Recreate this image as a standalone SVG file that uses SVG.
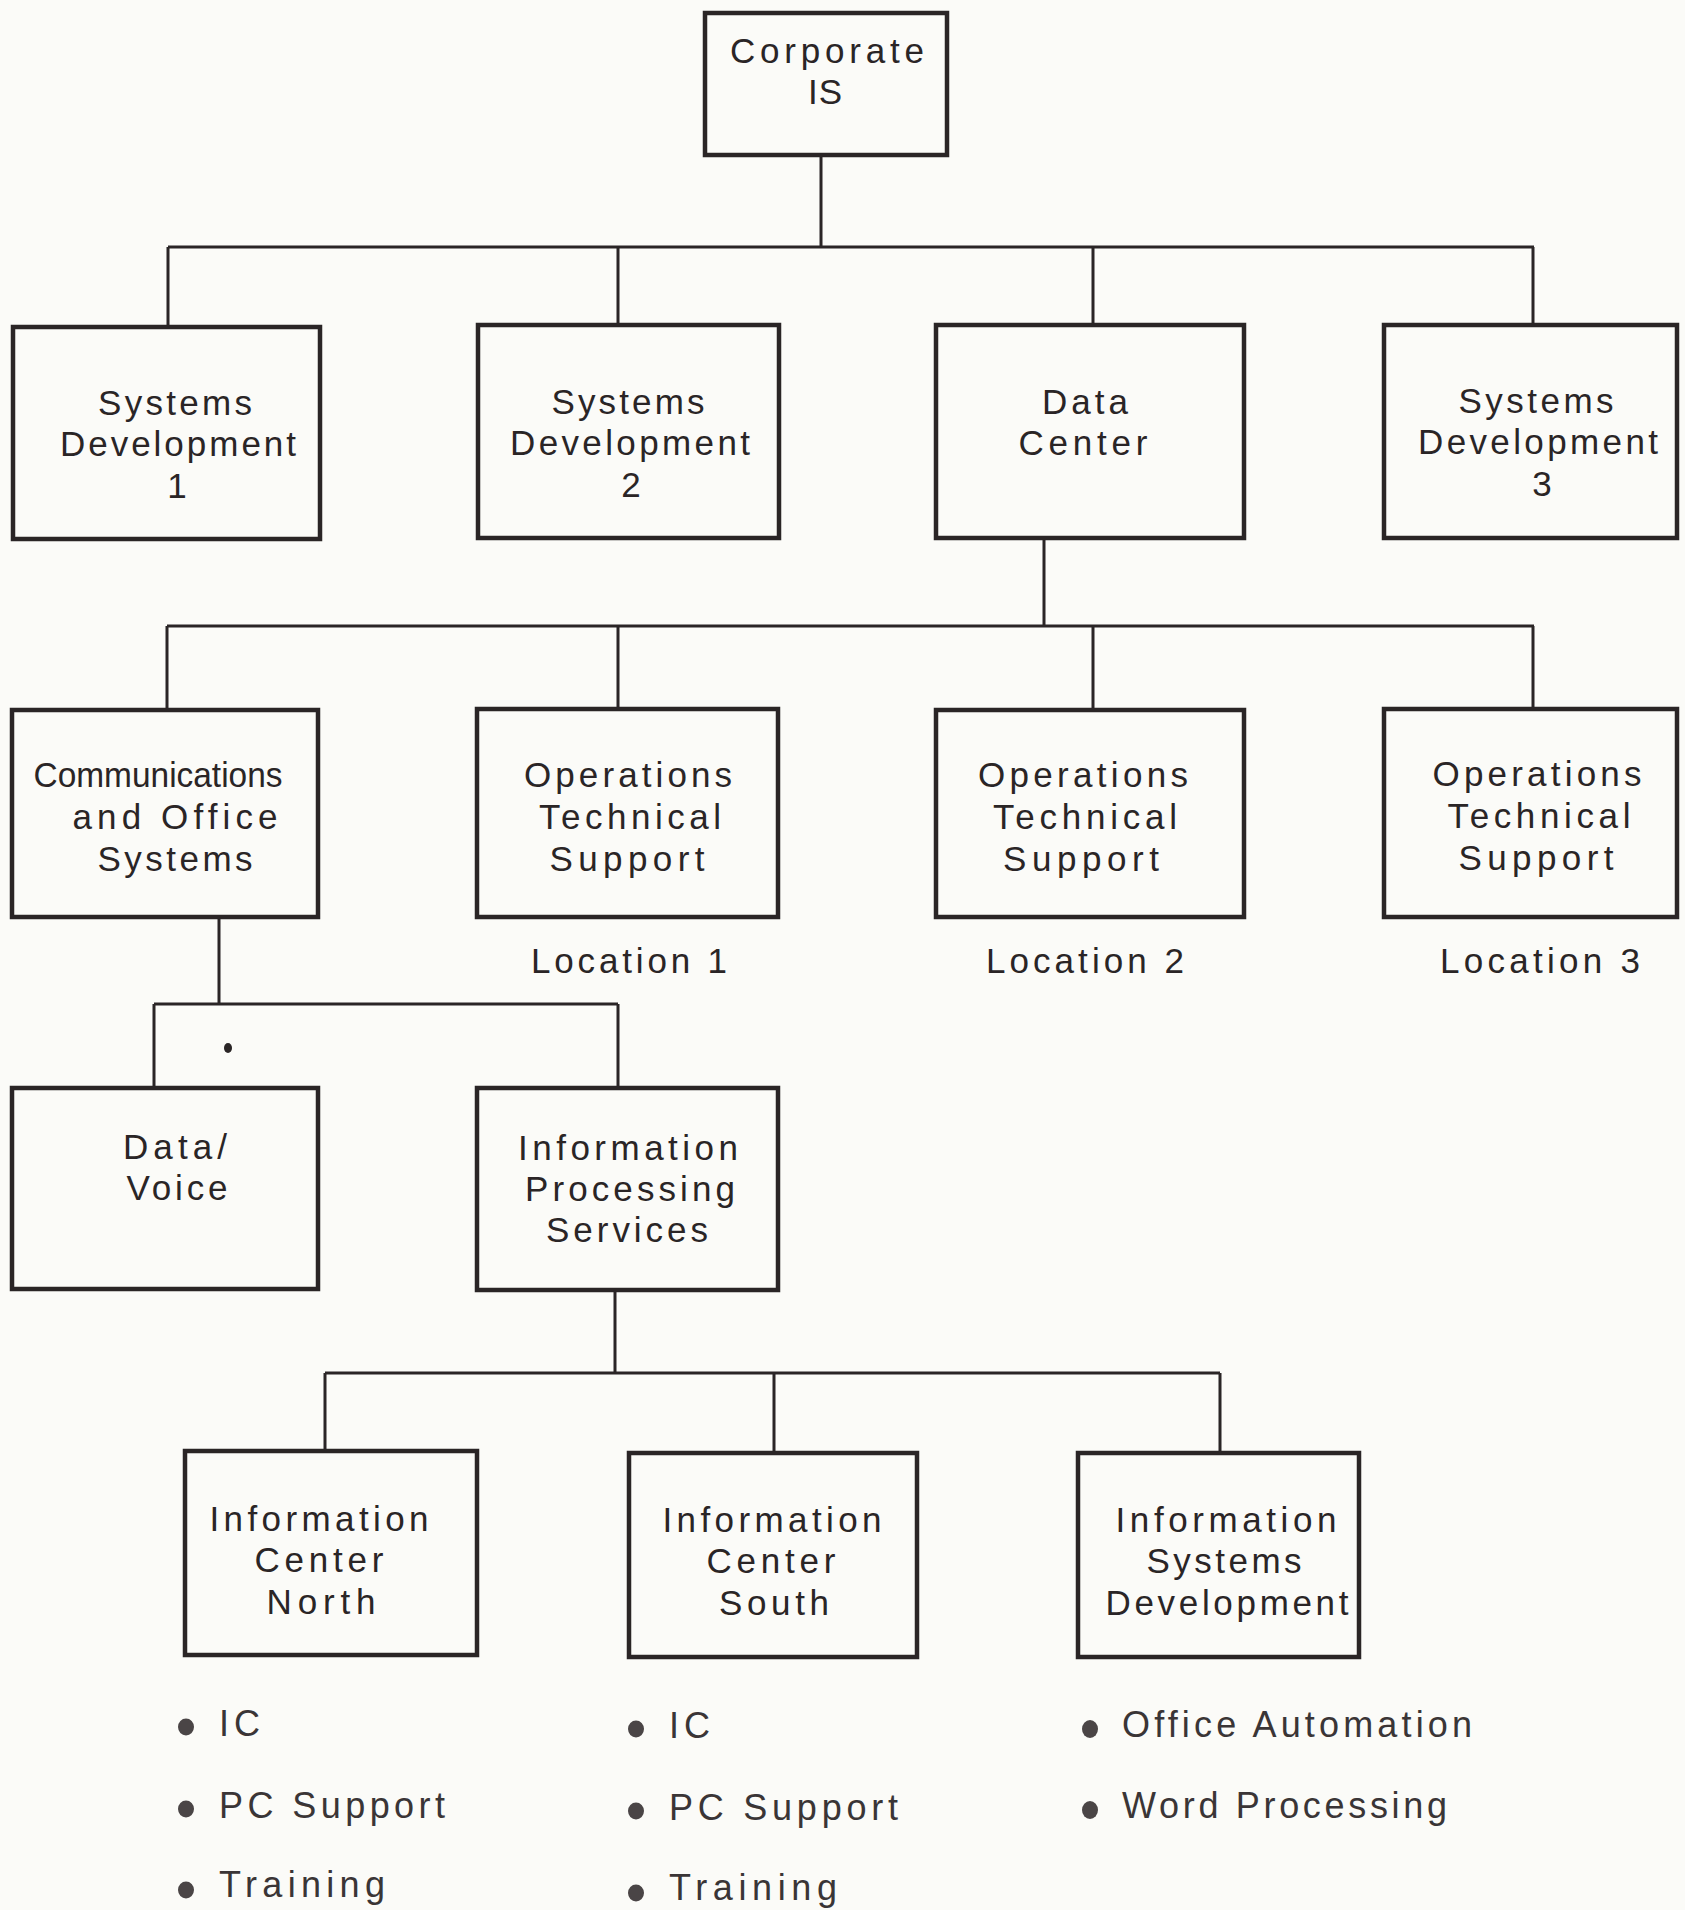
<svg xmlns="http://www.w3.org/2000/svg" width="1685" height="1910" viewBox="0 0 1685 1910">
  <style>
    .box { fill: none; stroke: #2a2526; stroke-width: 4.5; }
    .wire { fill: none; stroke: #2a2526; stroke-width: 3; }
    .t { font-family: "Liberation Sans", Arial, sans-serif; font-size: 35px; fill: #2a2526; text-anchor: middle; }
    .b { font-family: "Liberation Sans", Arial, sans-serif; font-size: 36px; fill: #3a3536; }
    .dot { fill: #4a4546; }
  </style>
  <rect x="0" y="0" width="1685" height="1910" fill="#fbfbf8"/>

  <!-- connectors -->
  <g id="connectors">
    <path class="wire" d="M821 157 V247 M168 247 H1534 M168 247 V325 M618 247 V323 M1093 247 V323 M1533 247 V323"/>
    <path class="wire" d="M1044 540 V626 M167 626 H1534 M167 626 V708 M618 626 V707 M1093 626 V708 M1533 626 V707"/>
    <path class="wire" d="M219 919 V1004 M154 1004 H618 M154 1004 V1086 M618 1004 V1086"/>
    <path class="wire" d="M615 1292 V1373 M325 1373 H1220 M325 1373 V1449 M774 1373 V1451 M1220 1373 V1451"/>
    <ellipse cx="228" cy="1048" rx="4" ry="5" fill="#2a2526"/>
  </g>

  <g id="corporate-is">
    <rect class="box" x="705" y="13" width="242" height="142"/>
    <text class="t" font-size="37" x="827" y="63" textLength="194" lengthAdjust="spacing">Corporate</text>
    <text class="t" font-size="37" x="825" y="104" textLength="34" lengthAdjust="spacing">IS</text>
  </g>

  <g id="systems-development-1">
    <rect class="box" x="13" y="327" width="307" height="212"/>
    <text class="t" x="175" y="415" textLength="154" lengthAdjust="spacing">Systems</text>
    <text class="t" x="178" y="456" textLength="236" lengthAdjust="spacing">Development</text>
    <text class="t" x="177" y="498">1</text>
  </g>

  <g id="systems-development-2">
    <rect class="box" x="478" y="325" width="301" height="213"/>
    <text class="t" x="628" y="414" textLength="153" lengthAdjust="spacing">Systems</text>
    <text class="t" x="630" y="455" textLength="240" lengthAdjust="spacing">Development</text>
    <text class="t" x="631" y="497">2</text>
  </g>

  <g id="data-center">
    <rect class="box" x="936" y="325" width="308" height="213"/>
    <text class="t" x="1085" y="414" textLength="86" lengthAdjust="spacing">Data</text>
    <text class="t" x="1083" y="455" textLength="129" lengthAdjust="spacing">Center</text>
  </g>

  <g id="systems-development-3">
    <rect class="box" x="1384" y="325" width="293" height="213"/>
    <text class="t" x="1536" y="413" textLength="155" lengthAdjust="spacing">Systems</text>
    <text class="t" x="1538" y="454" textLength="240" lengthAdjust="spacing">Development</text>
    <text class="t" x="1542" y="496">3</text>
  </g>

  <g id="communications-office-systems">
    <rect class="box" x="12" y="710" width="306" height="207"/>
    <text class="t" x="158" y="787" textLength="249" lengthAdjust="spacingAndGlyphs">Communications</text>
    <text class="t" x="175" y="829" textLength="205" lengthAdjust="spacing">and Office</text>
    <text class="t" x="175" y="871" textLength="155" lengthAdjust="spacing">Systems</text>
  </g>

  <g id="ops-tech-support-1">
    <rect class="box" x="477" y="709" width="301" height="208"/>
    <text class="t" x="628" y="787" textLength="208" lengthAdjust="spacing">Operations</text>
    <text class="t" x="630" y="829" textLength="182" lengthAdjust="spacing">Technical</text>
    <text class="t" x="627" y="871" textLength="155" lengthAdjust="spacing">Support</text>
    <text class="t" x="629" y="973" textLength="196" lengthAdjust="spacing">Location 1</text>
  </g>

  <g id="ops-tech-support-2">
    <rect class="box" x="936" y="710" width="308" height="207"/>
    <text class="t" x="1083" y="787" textLength="210" lengthAdjust="spacing">Operations</text>
    <text class="t" x="1085" y="829" textLength="184" lengthAdjust="spacing">Technical</text>
    <text class="t" x="1081" y="871" textLength="156" lengthAdjust="spacing">Support</text>
    <text class="t" x="1085" y="973" textLength="198" lengthAdjust="spacing">Location 2</text>
  </g>

  <g id="ops-tech-support-3">
    <rect class="box" x="1384" y="709" width="293" height="208"/>
    <text class="t" x="1537" y="786" textLength="209" lengthAdjust="spacing">Operations</text>
    <text class="t" x="1539" y="828" textLength="183" lengthAdjust="spacing">Technical</text>
    <text class="t" x="1536" y="870" textLength="155" lengthAdjust="spacing">Support</text>
    <text class="t" x="1540" y="973" textLength="200" lengthAdjust="spacing">Location 3</text>
  </g>

  <g id="data-voice">
    <rect class="box" x="12" y="1088" width="306" height="201"/>
    <text class="t" x="175" y="1159" textLength="104" lengthAdjust="spacing">Data/</text>
    <text class="t" x="177" y="1200" textLength="101" lengthAdjust="spacing">Voice</text>
  </g>

  <g id="information-processing-services">
    <rect class="box" x="477" y="1088" width="301" height="202"/>
    <text class="t" x="628" y="1160" textLength="220" lengthAdjust="spacing">Information</text>
    <text class="t" x="630" y="1201" textLength="210" lengthAdjust="spacing">Processing</text>
    <text class="t" x="627" y="1242" textLength="162" lengthAdjust="spacing">Services</text>
  </g>

  <g id="information-center-north">
    <rect class="box" x="185" y="1451" width="292" height="204"/>
    <text class="t" x="319" y="1531" textLength="219" lengthAdjust="spacing">Information</text>
    <text class="t" x="319" y="1572" textLength="129" lengthAdjust="spacing">Center</text>
    <text class="t" x="321" y="1614" textLength="109" lengthAdjust="spacing">North</text>
  </g>

  <g id="information-center-south">
    <rect class="box" x="629" y="1453" width="288" height="204"/>
    <text class="t" x="772" y="1532" textLength="219" lengthAdjust="spacing">Information</text>
    <text class="t" x="771" y="1573" textLength="129" lengthAdjust="spacing">Center</text>
    <text class="t" x="774" y="1615" textLength="110" lengthAdjust="spacing">South</text>
  </g>

  <g id="information-systems-development">
    <rect class="box" x="1078" y="1453" width="281" height="204"/>
    <text class="t" x="1226" y="1532" textLength="221" lengthAdjust="spacing">Information</text>
    <text class="t" x="1224" y="1573" textLength="155" lengthAdjust="spacing">Systems</text>
    <text class="t" x="1227" y="1615" textLength="243" lengthAdjust="spacing">Development</text>
  </g>

  <!-- duty lists under the bottom-row units -->
  <g id="north-duties">
    <ellipse class="dot" cx="186" cy="1727" rx="8" ry="8.5"/>
    <text class="b" x="219" y="1736" textLength="41" lengthAdjust="spacing">IC</text>
    <ellipse class="dot" cx="186" cy="1809" rx="8" ry="8.5"/>
    <text class="b" x="219" y="1818" textLength="226" lengthAdjust="spacing">PC Support</text>
    <ellipse class="dot" cx="186" cy="1890" rx="8" ry="8.5"/>
    <text class="b" x="219" y="1897" textLength="166" lengthAdjust="spacing">Training</text>
  </g>

  <g id="south-duties">
    <ellipse class="dot" cx="636" cy="1729" rx="8" ry="8.5"/>
    <text class="b" x="669" y="1738" textLength="41" lengthAdjust="spacing">IC</text>
    <ellipse class="dot" cx="636" cy="1811" rx="8" ry="8.5"/>
    <text class="b" x="669" y="1820" textLength="229" lengthAdjust="spacing">PC Support</text>
    <ellipse class="dot" cx="636" cy="1893" rx="8" ry="8.5"/>
    <text class="b" x="669" y="1900" textLength="168" lengthAdjust="spacing">Training</text>
  </g>

  <g id="isd-duties">
    <ellipse class="dot" cx="1090" cy="1729" rx="8" ry="9"/>
    <text class="b" x="1122" y="1737" textLength="350" lengthAdjust="spacing">Office Automation</text>
    <ellipse class="dot" cx="1090" cy="1810" rx="8" ry="9"/>
    <text class="b" x="1122" y="1818" textLength="325" lengthAdjust="spacing">Word Processing</text>
  </g>
</svg>
